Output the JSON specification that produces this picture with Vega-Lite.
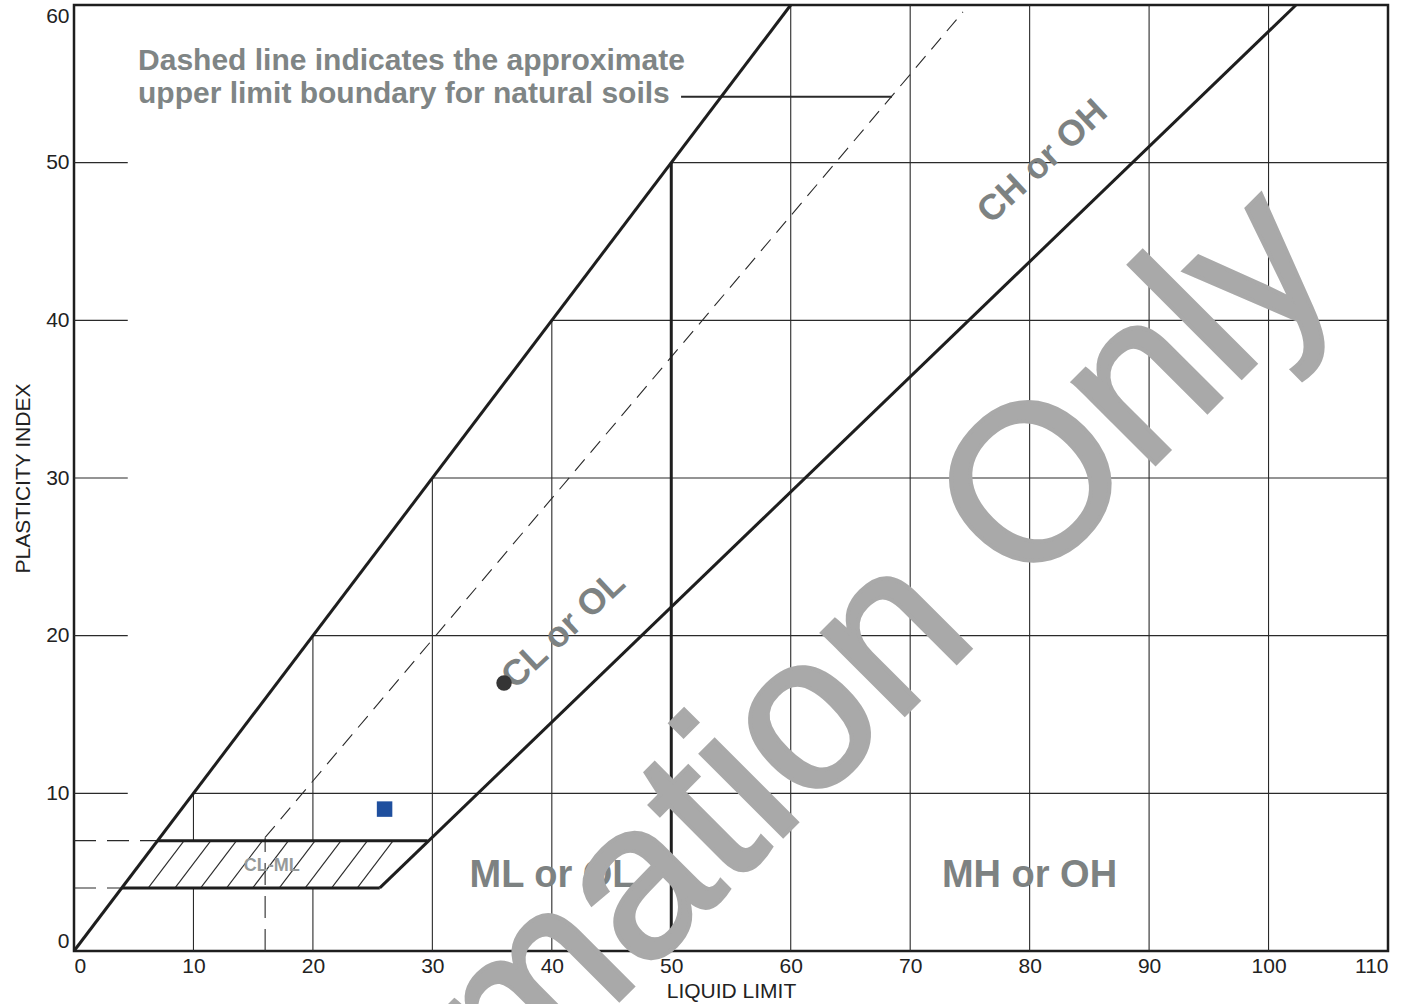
{
  "$schema": "https://vega.github.io/schema/vega-lite/v6.json",
  "width": 1314,
  "height": 946,
  "autosize": {"type": "none"},
  "padding": {"left": 74, "top": 5, "right": 15, "bottom": 53},
  "background": "white",
  "config": {
    "font": "Liberation Sans",
    "view": {"stroke": "#1e1e1e", "strokeWidth": 2.5}
  },
  "datasets": {
    "segments": [
      {"kind": "grid", "ll": 10, "pi": 0, "ll2": 10, "pi2": 4},
      {"kind": "grid", "ll": 10, "pi": 7, "ll2": 10, "pi2": 10},
      {"kind": "grid", "ll": 20, "pi": 0, "ll2": 20, "pi2": 4},
      {"kind": "grid", "ll": 20, "pi": 7, "ll2": 20, "pi2": 20},
      {"kind": "grid", "ll": 30, "pi": 0, "ll2": 30, "pi2": 30},
      {"kind": "grid", "ll": 40, "pi": 0, "ll2": 40, "pi2": 40},
      {"kind": "grid", "ll": 60, "pi": 0, "ll2": 60, "pi2": 60},
      {"kind": "grid", "ll": 70, "pi": 0, "ll2": 70, "pi2": 60},
      {"kind": "grid", "ll": 80, "pi": 0, "ll2": 80, "pi2": 60},
      {"kind": "grid", "ll": 90, "pi": 0, "ll2": 90, "pi2": 60},
      {"kind": "grid", "ll": 100, "pi": 0, "ll2": 100, "pi2": 60},
      {"kind": "grid", "ll": 10, "pi": 10, "ll2": 110, "pi2": 10},
      {"kind": "grid", "ll": 20, "pi": 20, "ll2": 110, "pi2": 20},
      {"kind": "grid", "ll": 30, "pi": 30, "ll2": 110, "pi2": 30},
      {"kind": "grid", "ll": 40, "pi": 40, "ll2": 110, "pi2": 40},
      {"kind": "grid", "ll": 50, "pi": 50, "ll2": 110, "pi2": 50},
      {"kind": "grid", "ll": 0, "pi": 10, "ll2": 4.5, "pi2": 10},
      {"kind": "grid", "ll": 0, "pi": 20, "ll2": 4.5, "pi2": 20},
      {"kind": "grid", "ll": 0, "pi": 30, "ll2": 4.5, "pi2": 30},
      {"kind": "grid", "ll": 0, "pi": 40, "ll2": 4.5, "pi2": 40},
      {"kind": "grid", "ll": 0, "pi": 50, "ll2": 4.5, "pi2": 50},
      {"kind": "hatch", "ll": 6.22, "pi": 4, "ll2": 9.22, "pi2": 7},
      {"kind": "hatch", "ll": 8.46, "pi": 4, "ll2": 11.46, "pi2": 7},
      {"kind": "hatch", "ll": 10.61, "pi": 4, "ll2": 13.61, "pi2": 7},
      {"kind": "hatch", "ll": 12.78, "pi": 4, "ll2": 15.78, "pi2": 7},
      {"kind": "hatch", "ll": 14.96, "pi": 4, "ll2": 17.96, "pi2": 7},
      {"kind": "hatch", "ll": 17.19, "pi": 4, "ll2": 20.19, "pi2": 7},
      {"kind": "hatch", "ll": 19.36, "pi": 4, "ll2": 22.36, "pi2": 7},
      {"kind": "hatch", "ll": 21.57, "pi": 4, "ll2": 24.57, "pi2": 7},
      {"kind": "hatch", "ll": 23.72, "pi": 4, "ll2": 26.72, "pi2": 7},
      {"kind": "uline", "ll": 16, "pi": 7.2, "ll2": 74.42, "pi2": 59.56},
      {"kind": "refdash", "ll": 16, "pi": 0, "ll2": 16, "pi2": 7.2},
      {"kind": "refdash", "ll": 0, "pi": 7, "ll2": 7, "pi2": 7},
      {"kind": "refdash", "ll": 0, "pi": 4, "ll2": 4, "pi2": 4},
      {"kind": "leader", "ll": 50.82, "pi": 54.18, "ll2": 68.48, "pi2": 54.18},
      {"kind": "thick", "ll": 0, "pi": 0, "ll2": 60, "pi2": 60},
      {"kind": "thick", "ll": 25.6, "pi": 4, "ll2": 102.3, "pi2": 60},
      {"kind": "thick", "ll": 4, "pi": 4, "ll2": 25.6, "pi2": 4},
      {"kind": "thick", "ll": 7, "pi": 7, "ll2": 29.6, "pi2": 7},
      {"kind": "thick", "ll": 50, "pi": 0, "ll2": 50, "pi2": 50}
    ],
    "labels": [
      {"kind": "note", "ll": 5.36, "pi": 55.88, "label": "Dashed line indicates the approximate"},
      {"kind": "note", "ll": 5.36, "pi": 53.79, "label": "upper limit boundary for natural soils"},
      {"kind": "zone", "ll": 40.06, "pi": 4.06, "label": "ML or OL"},
      {"kind": "zone", "ll": 79.99, "pi": 4.06, "label": "MH or OH"},
      {"kind": "diag", "ll": 40.98, "pi": 20.36, "label": "CL or OL"},
      {"kind": "diag", "ll": 81.08, "pi": 50.06, "label": "CH or OH"},
      {"kind": "small", "ll": 16.55, "pi": 5.39, "label": "CL-ML"},
      {"kind": "watermark", "ll": 54.6, "pi": 9.6, "label": "Information Only"}
    ],
    "samples": [
      {"sample": "A", "ll": 36, "pi": 17},
      {"sample": "B", "ll": 26, "pi": 9}
    ]
  },
  "encoding": {
    "x": {
      "field": "ll", "type": "quantitative",
      "scale": {"domain": [0, 110], "nice": false},
      "axis": {
        "values": [0, 10, 20, 30, 40, 50, 60, 70, 80, 90, 100, 110],
        "grid": false, "ticks": false, "domain": false,
        "labelFlush": true, "labelFontSize": 21, "labelColor": "#222222", "labelPadding": 4,
        "title": "LIQUID LIMIT", "titleFontSize": 21, "titleFontWeight": "normal", "titleColor": "#222222", "titlePadding": 4
      }
    },
    "y": {
      "field": "pi", "type": "quantitative",
      "scale": {"domain": [0, 60], "nice": false},
      "axis": {
        "values": [0, 10, 20, 30, 40, 50, 60],
        "grid": false, "ticks": false, "domain": false,
        "labelFlush": true, "labelFontSize": 21, "labelColor": "#222222", "labelPadding": 5,
        "title": "PLASTICITY INDEX", "titleFontSize": 21, "titleFontWeight": "normal", "titleColor": "#222222", "titlePadding": 12
      }
    }
  },
  "layer": [
    {
      "data": {"name": "segments"},
      "transform": [{"filter": "datum.kind === 'grid'"}],
      "mark": {"type": "rule", "color": "#2a2a2a", "strokeWidth": 1.1},
      "encoding": {"x2": {"field": "ll2"}, "y2": {"field": "pi2"}}
    },
    {
      "data": {"name": "segments"},
      "transform": [{"filter": "datum.kind === 'hatch'"}],
      "mark": {"type": "rule", "color": "#2a2a2a", "strokeWidth": 1.1},
      "encoding": {"x2": {"field": "ll2"}, "y2": {"field": "pi2"}}
    },
    {
      "data": {"name": "segments"},
      "transform": [{"filter": "datum.kind === 'uline'"}],
      "mark": {"type": "rule", "color": "#2a2a2a", "strokeWidth": 1.1, "strokeDash": [15, 9]},
      "encoding": {"x2": {"field": "ll2"}, "y2": {"field": "pi2"}}
    },
    {
      "data": {"name": "segments"},
      "transform": [{"filter": "datum.kind === 'refdash'"}],
      "mark": {"type": "rule", "color": "#2a2a2a", "strokeWidth": 1.1, "strokeDash": [22, 11]},
      "encoding": {"x2": {"field": "ll2"}, "y2": {"field": "pi2"}}
    },
    {
      "data": {"name": "segments"},
      "transform": [{"filter": "datum.kind === 'leader'"}],
      "mark": {"type": "rule", "color": "#2a2a2a", "strokeWidth": 2},
      "encoding": {"x2": {"field": "ll2"}, "y2": {"field": "pi2"}}
    },
    {
      "data": {"name": "segments"},
      "transform": [{"filter": "datum.kind === 'thick'"}],
      "mark": {"type": "rule", "color": "#1e1e1e", "strokeWidth": 3},
      "encoding": {"x2": {"field": "ll2"}, "y2": {"field": "pi2"}}
    },
    {
      "data": {"name": "labels"},
      "transform": [{"filter": "datum.kind === 'note'"}],
      "mark": {"type": "text", "align": "left", "baseline": "alphabetic", "fontSize": 30, "fontWeight": "bold", "color": "#7f8585"},
      "encoding": {"text": {"field": "label"}}
    },
    {
      "data": {"name": "labels"},
      "transform": [{"filter": "datum.kind === 'zone'"}],
      "mark": {"type": "text", "align": "center", "baseline": "alphabetic", "fontSize": 38, "fontWeight": "bold", "color": "#7d8282"},
      "encoding": {"text": {"field": "label"}}
    },
    {
      "data": {"name": "labels"},
      "transform": [{"filter": "datum.kind === 'diag'"}],
      "mark": {"type": "text", "align": "center", "baseline": "middle", "fontSize": 36, "fontWeight": "bold", "angle": -43, "color": "#7d8282"},
      "encoding": {"text": {"field": "label"}}
    },
    {
      "data": {"name": "labels"},
      "transform": [{"filter": "datum.kind === 'small'"}],
      "mark": {"type": "text", "align": "center", "baseline": "middle", "fontSize": 18, "fontWeight": "bold", "color": "#969a9a"},
      "encoding": {"text": {"field": "label"}}
    },
    {
      "data": {"name": "samples"},
      "mark": {"type": "point", "filled": true, "opacity": 1},
      "encoding": {
        "shape": {"field": "sample", "type": "nominal", "scale": {"domain": ["A", "B"], "range": ["circle", "square"]}, "legend": null},
        "color": {"field": "sample", "type": "nominal", "scale": {"domain": ["A", "B"], "range": ["#353535", "#1f4f9e"]}, "legend": null},
        "size": {"value": 240}
      }
    },
    {
      "data": {"name": "labels"},
      "transform": [{"filter": "datum.kind === 'watermark'"}],
      "mark": {"type": "text", "align": "center", "baseline": "middle", "fontSize": 220, "fontWeight": "normal", "angle": -45, "color": "#a9a9a9", "stroke": "#a9a9a9", "strokeWidth": 4},
      "encoding": {"text": {"field": "label"}}
    }
  ]
}
